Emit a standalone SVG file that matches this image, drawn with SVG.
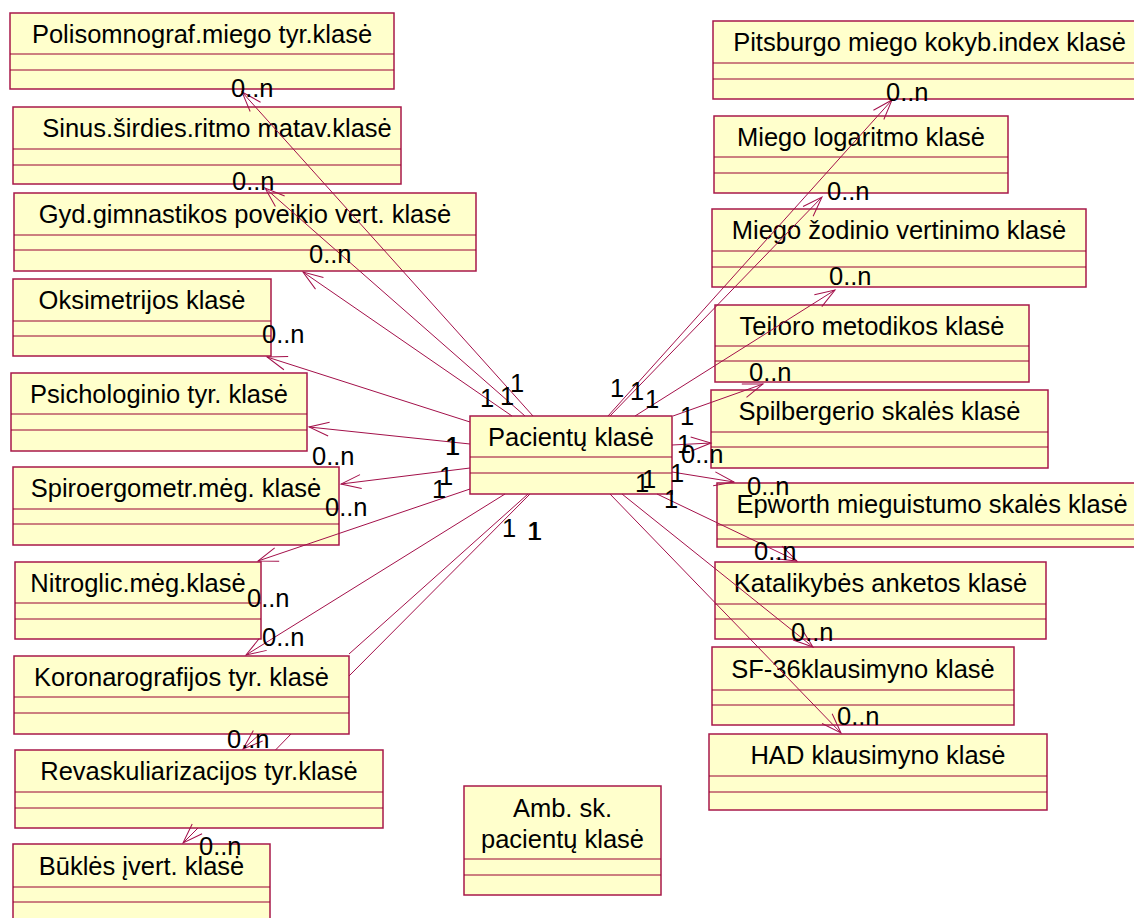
<svg xmlns="http://www.w3.org/2000/svg" width="1134" height="918" viewBox="0 0 1134 918">
<style>
.box{fill:#ffffcc;stroke:#a8184a;stroke-width:1.5}
.sep{stroke:#990033;stroke-width:1}
.t{font-family:"Liberation Sans",Arial,sans-serif;font-size:25.5px;fill:#000;text-anchor:middle}
.l{font-family:"Liberation Sans",Arial,sans-serif;font-size:25.5px;fill:#000}
.c{fill:none;stroke:#a3104a;stroke-width:1;marker-end:url(#arr)}
</style>
<defs>
<marker id="arr" markerUnits="userSpaceOnUse" markerWidth="24" markerHeight="20" viewBox="-22 -10 24 20" refX="0" refY="0" orient="auto">
<path d="M-20,-7 L0,0 L-20,7" fill="none" stroke="#a3104a" stroke-width="1"/>
</marker>
</defs>
<rect width="1134" height="918" fill="#fff"/>

<g id="n-polisom"><rect class="box" x="10" y="13" width="384" height="76"/><line class="sep" x1="10" y1="54" x2="394" y2="54"/><line class="sep" x1="10" y1="70" x2="394" y2="70"/><text class="t" x="202" y="43">Polisomnograf.miego tyr.klasė</text></g>
<g id="n-sinus"><rect class="box" x="13" y="107" width="388" height="77"/><line class="sep" x1="13" y1="149" x2="401" y2="149"/><line class="sep" x1="13" y1="165" x2="401" y2="165"/><text class="t" x="217" y="137">Sinus.širdies.ritmo matav.klasė</text></g>
<g id="n-gyd"><rect class="box" x="14" y="193" width="462" height="78"/><line class="sep" x1="14" y1="235" x2="476" y2="235"/><line class="sep" x1="14" y1="250" x2="476" y2="250"/><text class="t" x="245" y="223">Gyd.gimnastikos poveikio vert. klasė</text></g>
<g id="n-oksim"><rect class="box" x="13" y="279" width="258" height="77"/><line class="sep" x1="13" y1="321" x2="271" y2="321"/><line class="sep" x1="13" y1="336" x2="271" y2="336"/><text class="t" x="142" y="309">Oksimetrijos klasė</text></g>
<g id="n-psich"><rect class="box" x="11" y="373" width="296" height="78"/><line class="sep" x1="11" y1="414" x2="307" y2="414"/><line class="sep" x1="11" y1="430" x2="307" y2="430"/><text class="t" x="159" y="402.5">Psichologinio tyr. klasė</text></g>
<g id="n-spiro"><rect class="box" x="13" y="467" width="326" height="78"/><line class="sep" x1="13" y1="509" x2="339" y2="509"/><line class="sep" x1="13" y1="524" x2="339" y2="524"/><text class="t" x="176" y="497">Spiroergometr.mėg. klasė</text></g>
<g id="n-nitro"><rect class="box" x="15" y="562" width="246" height="77"/><line class="sep" x1="15" y1="603" x2="261" y2="603"/><line class="sep" x1="15" y1="619" x2="261" y2="619"/><text class="t" x="138" y="591.5">Nitroglic.mėg.klasė</text></g>
<g id="n-korona"><rect class="box" x="14" y="656" width="335" height="78"/><line class="sep" x1="14" y1="697" x2="349" y2="697"/><line class="sep" x1="14" y1="713" x2="349" y2="713"/><text class="t" x="181.5" y="685.5">Koronarografijos tyr. klasė</text></g>
<g id="n-revask"><rect class="box" x="15" y="750" width="368" height="78"/><line class="sep" x1="15" y1="792" x2="383" y2="792"/><line class="sep" x1="15" y1="808" x2="383" y2="808"/><text class="t" x="199" y="780">Revaskuliarizacijos tyr.klasė</text></g>
<g id="n-bukles"><rect class="box" x="13" y="844" width="257" height="77"/><line class="sep" x1="13" y1="887" x2="270" y2="887"/><line class="sep" x1="13" y1="902" x2="270" y2="902"/><text class="t" x="141.5" y="874.5">Būklės įvert. klasė</text></g>

<g id="n-pitsb"><rect class="box" x="713" y="21" width="433" height="78"/><line class="sep" x1="713" y1="63" x2="1146" y2="63"/><line class="sep" x1="713" y1="79" x2="1146" y2="79"/><text class="t" x="929.5" y="51">Pitsburgo miego kokyb.index klasė</text></g>
<g id="n-miegolog"><rect class="box" x="714" y="116" width="294" height="77"/><line class="sep" x1="714" y1="157" x2="1008" y2="157"/><line class="sep" x1="714" y1="173" x2="1008" y2="173"/><text class="t" x="861" y="145.5">Miego logaritmo klasė</text></g>
<g id="n-miegozod"><rect class="box" x="712" y="209" width="374" height="78"/><line class="sep" x1="712" y1="251" x2="1086" y2="251"/><line class="sep" x1="712" y1="267" x2="1086" y2="267"/><text class="t" x="899" y="239">Miego žodinio vertinimo klasė</text></g>
<g id="n-teiloro"><rect class="box" x="715" y="305" width="314" height="77"/><line class="sep" x1="715" y1="346" x2="1029" y2="346"/><line class="sep" x1="715" y1="361" x2="1029" y2="361"/><text class="t" x="872" y="334.5">Teiloro metodikos klasė</text></g>
<g id="n-spilb"><rect class="box" x="711" y="390" width="337" height="78"/><line class="sep" x1="711" y1="432" x2="1048" y2="432"/><line class="sep" x1="711" y1="447" x2="1048" y2="447"/><text class="t" x="879.5" y="420">Spilbergerio skalės klasė</text></g>
<g id="n-epworth"><rect class="box" x="717" y="483" width="430" height="64"/><line class="sep" x1="717" y1="525" x2="1147" y2="525"/><line class="sep" x1="717" y1="539" x2="1147" y2="539"/><text class="t" x="932" y="513">Epworth mieguistumo skalės klasė</text></g>
<g id="n-katal"><rect class="box" x="715" y="562" width="331" height="77"/><line class="sep" x1="715" y1="604" x2="1046" y2="604"/><line class="sep" x1="715" y1="619" x2="1046" y2="619"/><text class="t" x="880.5" y="592">Katalikybės anketos klasė</text></g>
<g id="n-sf36"><rect class="box" x="712" y="647" width="302" height="78"/><line class="sep" x1="712" y1="690" x2="1014" y2="690"/><line class="sep" x1="712" y1="705" x2="1014" y2="705"/><text class="t" x="863" y="677.5">SF-36klausimyno klasė</text></g>
<g id="n-had"><rect class="box" x="709" y="734" width="338" height="76"/><line class="sep" x1="709" y1="776" x2="1047" y2="776"/><line class="sep" x1="709" y1="792" x2="1047" y2="792"/><text class="t" x="878" y="764">HAD klausimyno klasė</text></g>

<g id="n-pacientu"><rect class="box" x="470" y="416" width="202" height="78"/><line class="sep" x1="470" y1="457" x2="672" y2="457"/><line class="sep" x1="470" y1="473" x2="672" y2="473"/><text class="t" x="571" y="445.5">Pacientų klasė</text></g>
<g id="n-amb"><rect class="box" x="464" y="786" width="197" height="109"/><line class="sep" x1="464" y1="859" x2="661" y2="859"/><line class="sep" x1="464" y1="875" x2="661" y2="875"/><text class="t" x="562.5" y="817">Amb. sk.</text><text class="t" x="562.5" y="848">pacientų klasė</text></g>

<g id="connectors">
<path class="c" d="M533,416 L242,92"/>
<path class="c" d="M525,416 L265,188"/>
<path class="c" d="M512,416 L303,272"/>
<path class="c" d="M470,422 L267,357"/>
<path class="c" d="M470,444 L309,427"/>
<path class="c" d="M470,468 L341,484"/>
<path class="c" d="M470,489 L258,561"/>
<path class="c" d="M505,494 L246,655"/>
<path class="c" d="M528,494 L349,654 M260,734 L243,749"/>
<path class="c" d="M530,494 L349,676 M291,734 L275.5,750 M198,828 L183,843"/>
<path class="c" d="M608,416 L892,100"/>
<path class="c" d="M610,416 L822,197"/>
<path class="c" d="M635,416 L835,290"/>
<path class="c" d="M673,416 L763,384"/>
<path class="c" d="M672,445 L711,443"/>
<path class="c" d="M672,472 L734,482"/>
<path class="c" d="M657,494 L797,561"/>
<path class="c" d="M622,494 L813,647"/>
<path class="c" d="M610,494 L841,733"/>
<text class="l" x="480" y="407">1</text>
<text class="l" x="500" y="405">1</text>
<text class="l" x="510" y="392">1</text>
<text class="l" x="610" y="397">1</text>
<text class="l" x="630" y="400">1</text>
<text class="l" x="645" y="408">1</text>
<text class="l" x="680" y="425">1</text>
<text class="l" x="677" y="453">1</text>
<text class="l" x="445" y="455">1</text>
<text class="l" x="446" y="455">1</text>
<text class="l" x="439" y="485">1</text>
<text class="l" x="432" y="498">1</text>
<text class="l" x="635" y="492">1</text>
<text class="l" x="642" y="488">1</text>
<text class="l" x="670" y="482">1</text>
<text class="l" x="664" y="508">1</text>
<text class="l" x="502" y="537">1</text>
<text class="l" x="527" y="540">1</text>
<text class="l" x="528" y="540">1</text>
<text class="l" x="231" y="97">0..n</text>
<text class="l" x="232" y="190">0..n</text>
<text class="l" x="309" y="263">0..n</text>
<text class="l" x="262" y="343">0..n</text>
<text class="l" x="312" y="465">0..n</text>
<text class="l" x="325" y="516">0..n</text>
<text class="l" x="247" y="607">0..n</text>
<text class="l" x="262" y="646">0..n</text>
<text class="l" x="227" y="748">0..n</text>
<text class="l" x="199" y="855">0..n</text>
<text class="l" x="886" y="101">0..n</text>
<text class="l" x="827" y="200">0..n</text>
<text class="l" x="829" y="285">0..n</text>
<text class="l" x="749" y="381">0..n</text>
<text class="l" x="681" y="463">0..n</text>
<text class="l" x="747" y="495">0..n</text>
<text class="l" x="754" y="560">0..n</text>
<text class="l" x="791" y="641">0..n</text>
<text class="l" x="837" y="725">0..n</text>
</g>
</svg>
